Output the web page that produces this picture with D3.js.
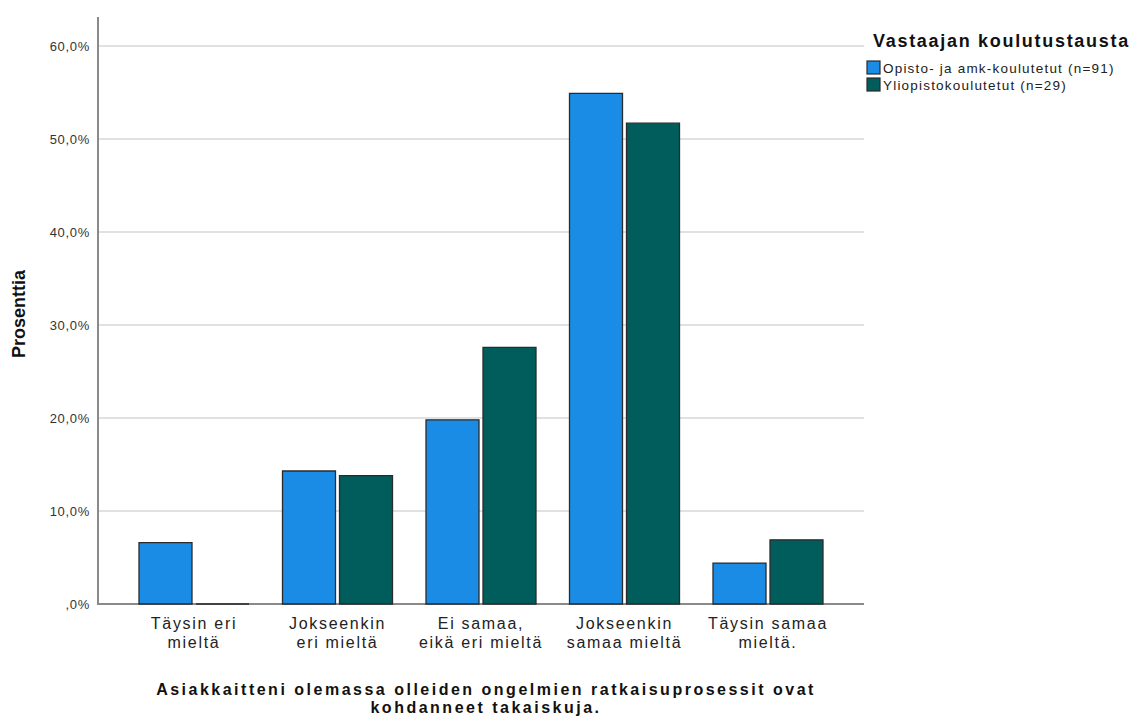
<!DOCTYPE html>
<html><head><meta charset="utf-8">
<script src="https://cdn.jsdelivr.net/npm/d3@7"></script>
<style>body{margin:0;background:#fff}svg{display:block}text{font-family:Arial,"Liberation Sans",sans-serif}</style>
</head><body><svg id="c" width="1137" height="718"></svg>
<script>
const categories = [["Täysin eri","mieltä"],["Jokseenkin","eri mieltä"],["Ei samaa,","eikä eri mieltä"],["Jokseenkin","samaa mieltä"],["Täysin samaa","mieltä."]];
const seriesNames = ["Opisto- ja amk-koulutetut (n=91)","Yliopistokoulutetut (n=29)"];
const opistoValues = [6.6, 14.3, 19.8, 54.9, 4.4];
const yliopistoValues = [0.0, 13.8, 27.6, 51.7, 6.9];
const tickValues = [0,10,20,30,40,50,60];
const tickLabels = [",0%","10,0%","20,0%","30,0%","40,0%","50,0%","60,0%"];
const colors = ["#1a8ce6","#015d5b"];

const svg = d3.select("#c");
const y = d3.scaleLinear().domain([0,60]).range([604,46]);
const x0 = d3.scaleBand().domain(d3.range(categories.length)).range([122.25,839.75]).padding(0);
const bw = x0.bandwidth();
const x1 = d3.scaleBand().domain([0,1]).range([(bw-110)/2,(bw+110)/2]).paddingInner(0.0702);

// gridlines
svg.append("g").selectAll("line").data(tickValues.filter(d=>d>0)).join("line")
  .attr("x1",98).attr("x2",864).attr("y1",d=>y(d)).attr("y2",d=>y(d))
  .attr("stroke","#c4c4c4").attr("stroke-width",1.2);

// y axis via d3
const yAxis = d3.axisLeft(y).tickValues(tickValues).tickFormat((d,i)=>tickLabels[i]).tickSize(0).tickPadding(8);
const ga = svg.append("g").attr("transform","translate(98,0)").call(yAxis);
ga.select(".domain").remove();
ga.selectAll("text").attr("font-size",13).attr("letter-spacing",0.7).attr("fill","#333").attr("font-family","Arial, 'Liberation Sans', sans-serif");

// axes lines
svg.append("line").attr("x1",98).attr("x2",864).attr("y1",604).attr("y2",604).attr("stroke","#8a8a8a").attr("stroke-width",2);
svg.append("line").attr("x1",98).attr("x2",98).attr("y1",17).attr("y2",605).attr("stroke","#8a8a8a").attr("stroke-width",2);

// bars
const series = [opistoValues, yliopistoValues];
const g = svg.append("g");
categories.forEach((c,i)=>{
  series.forEach((vals,s)=>{
    const bx = x0(i)+x1(s), w = x1.bandwidth(), top = y(vals[i]), base = y(0);
    g.append("path")
      .attr("d",`M${bx},${base}V${top}H${bx+w}V${base}Z`)
      .attr("fill",colors[s]).attr("stroke","#2b2b2b").attr("stroke-width",1.3);
  });
});

// category labels
const cl = svg.append("g");
categories.forEach((c,i)=>{
  const t = cl.append("text").attr("text-anchor","middle").attr("font-size",16).attr("fill","#222").attr("letter-spacing",1.7);
  c.forEach((line,k)=>t.append("tspan").attr("x",x0(i)+bw/2).attr("y",629+k*18.5).text(line));
});

// axis titles
svg.append("text").attr("transform","translate(25,314) rotate(-90)").attr("text-anchor","middle")
  .attr("font-size",18).attr("font-weight","bold").attr("fill","#111").text("Prosenttia");
const xt = svg.append("text").attr("text-anchor","middle").attr("font-size",16).attr("font-weight","bold").attr("fill","#111").attr("letter-spacing",2.5);
xt.append("tspan").attr("x",486).attr("y",695).text("Asiakkaitteni olemassa olleiden ongelmien ratkaisuprosessit ovat");
xt.append("tspan").attr("x",486).attr("y",712.5).text("kohdanneet takaiskuja.");

// legend
svg.append("text").attr("x",873).attr("y",47).attr("font-size",18).attr("font-weight","bold").attr("fill","#111").attr("letter-spacing",1.7).text("Vastaajan koulutustausta");
const lg = svg.append("g").selectAll("g").data(seriesNames).join("g").attr("transform",(d,i)=>`translate(867,${61+i*17})`);
lg.append("rect").attr("width",13).attr("height",13).attr("fill",(d,i)=>colors[i]).attr("stroke","#2b2b2b").attr("stroke-width",1.2);
lg.append("text").attr("x",16).attr("y",11.5).attr("font-size",13.5).attr("letter-spacing",1.2).attr("fill","#222").text(d=>d);
</script></body></html>
